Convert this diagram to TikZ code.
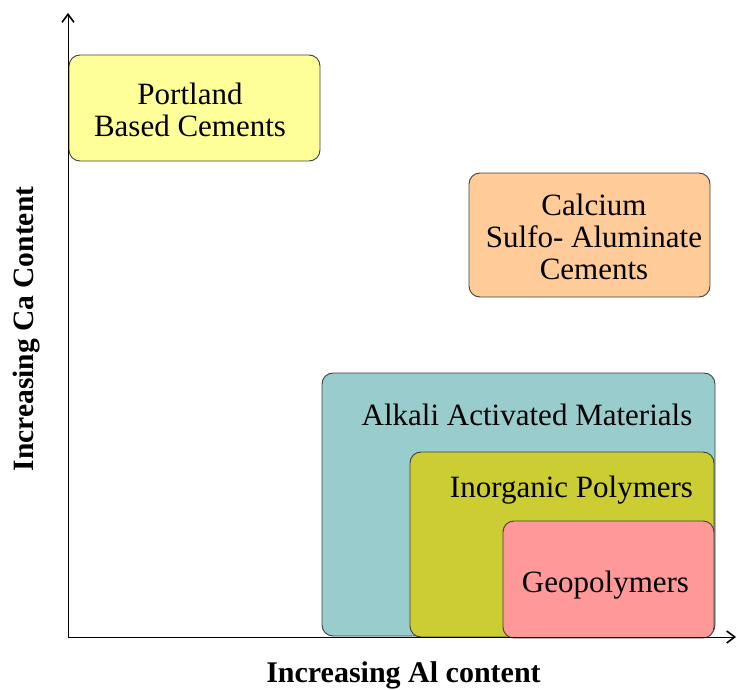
\documentclass[tikz,border=0pt]{standalone}
\usepackage{fontspec}
\setmainfont{Liberation Serif}
\usetikzlibrary{arrows.meta}
\definecolor{portland}{HTML}{FFFF99}
\definecolor{csa}{HTML}{FFCC99}
\definecolor{alkali}{HTML}{99CCCC}
\definecolor{inorg}{HTML}{CCCC33}
\definecolor{geo}{HTML}{FF9999}
\definecolor{edge}{HTML}{404040}
\tikzset{
  region/.style={draw=edge, line width=0.9pt, rounded corners=11pt, inner sep=0pt},
  lbl/.style={font=\fontsize{31}{32}\selectfont, align=center, inner sep=0pt},
  axislbl/.style={font=\bfseries\fontsize{30}{32}\selectfont, inner sep=0pt, anchor=base},
  axis/.style={line width=1pt, -{Straight Barb[length=8pt,width=12pt,line width=1.6pt]}}
}
\begin{document}
\begin{tikzpicture}[x=1pt,y=-1pt]
\useasboundingbox (0,0) rectangle (737,690);
% axes
\coordinate (o) at (68,637);
\coordinate (ytip) at (68,13);
\coordinate (xtip) at (736,637);
% nested regions, drawn back to front
\path[region, fill=alkali] (322,373) rectangle (715,636);
\node[lbl, anchor=base] (aam) at (527,425) {Alkali Activated Materials};
\path[region, fill=inorg] (410,452) rectangle (714,637);
\node[lbl, anchor=base] (ip) at (571.5,497) {Inorganic Polymers};
\path[region, fill=geo] (503,521) rectangle (714,638);
\node[lbl, anchor=base] (gp) at (605.5,592) {Geopolymers};
% standalone cement families
\path[region, fill=portland] (69,55) rectangle (320,161);
\node[lbl] (pbc) at (190,109.5) {Portland\\Based Cements};
\path[region, fill=csa] (469,173) rectangle (710,297);
\node[lbl] (csac) at (594,236.5) {Calcium\\Sulfo- Aluminate\\Cements};
\draw[axis] (o) -- (ytip);
\draw[axis] (o) -- (xtip);
\node[axislbl] (xl) at (403.5,682) {Increasing Al content};
\node[axislbl, font=\bfseries\fontsize{29.5}{32}\selectfont, rotate=90] (yl) at (33,329) {Increasing Ca Content};
\end{tikzpicture}
\end{document}
